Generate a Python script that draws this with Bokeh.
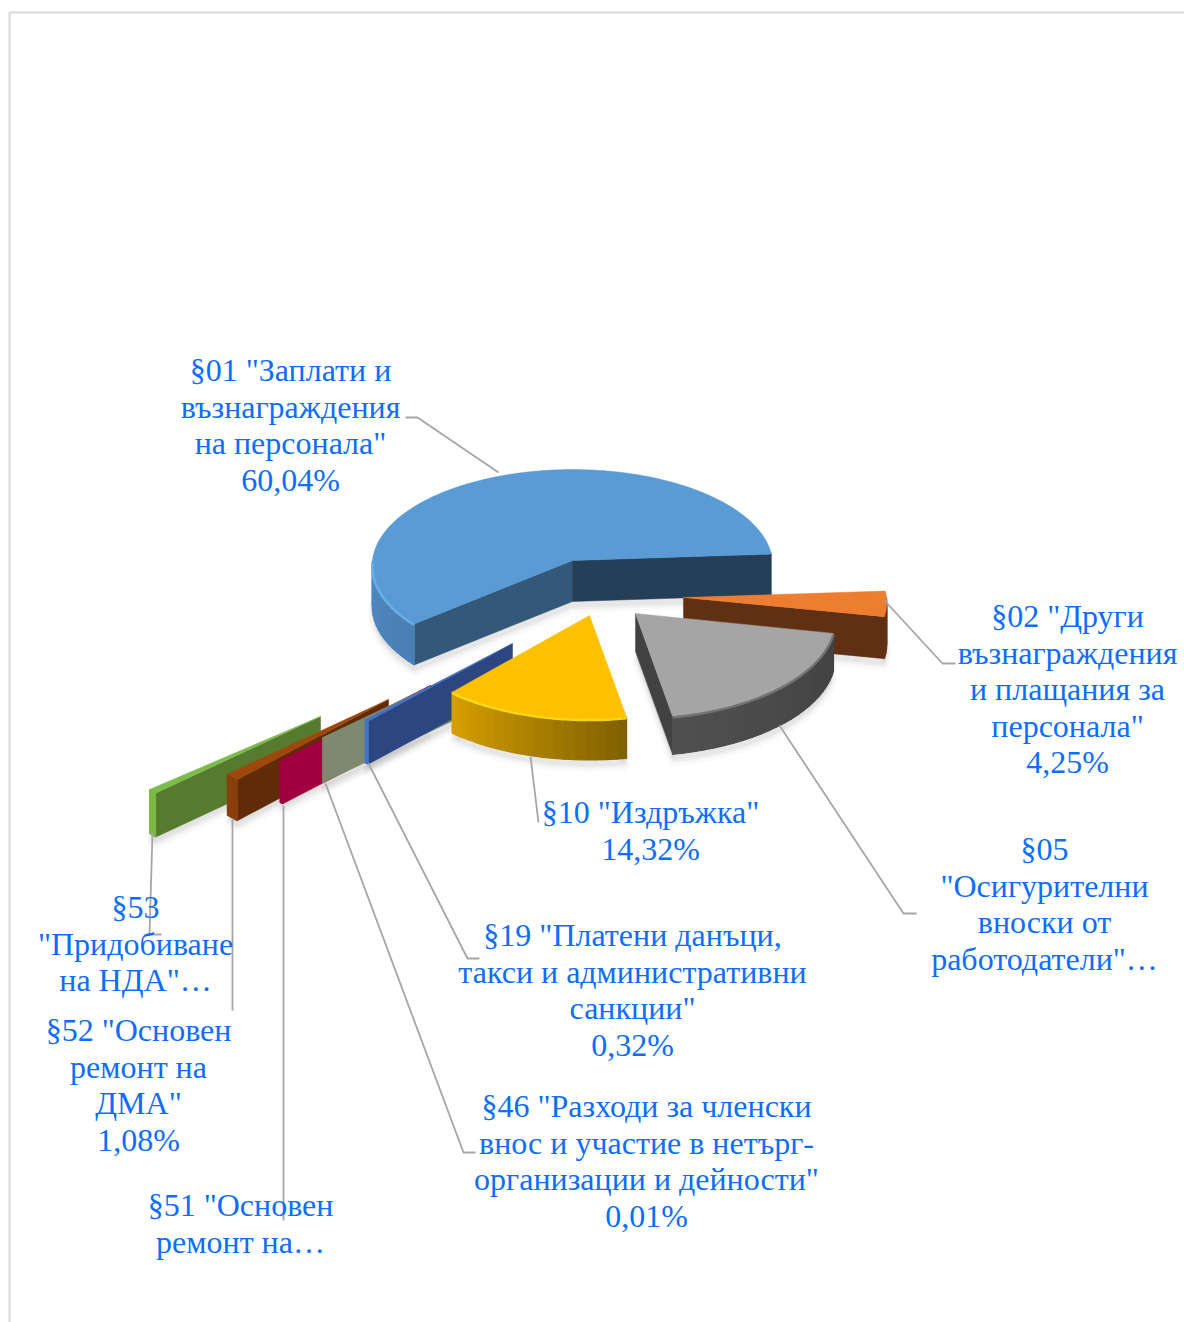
import numpy as np
from bokeh.plotting import figure
from bokeh.models import ColumnDataSource, Range1d
from bokeh.core.properties import value
from bokeh.embed import file_html
from bokeh.resources import INLINE

# ---- data ----
categories = ['§01', '§02', '§05', '§10', '§19', '§46', '§51', '§52', '§53']
shares = [60.04, 4.25, 19.00, 14.32, 0.32, 0.01, 0.30, 1.08, 0.68]
label_lines = [
    ['§01 "Заплати и', 'възнаграждения', 'на персонала"', '60,04%'],
    ['§02 "Други', 'възнаграждения', 'и плащания за', 'персонала"', '4,25%'],
    ['§05', '"Осигурителни', 'вноски от', 'работодатели"…'],
    ['§10 "Издръжка"', '14,32%'],
    ['§19 "Платени данъци,', 'такси и административни', 'санкции"', '0,32%'],
    ['§46 "Разходи за членски', 'внос и участие в нетърг-', 'организации и дейности"', '0,01%'],
    ['§51 "Основен', 'ремонт на…'],
    ['§52 "Основен', 'ремонт на', 'ДМА"', '1,08%'],
    ['§53', '"Придобиване', 'на НДА"…'],
]

# ---- layout and style ----
FIRST_ANGLE = 230.0
R, K, Q = 200.0, 95.5, 0.05
apex_x = [572, 683, 635, 589, 512, 470, 430, 388, 320]
apex_y = [560, 597, 613, 615, 643, 667, 685, 699, 716]
scale_x = [1.0, 1.015, 1.0, 1.0, 1.05, 1.05, 1.05, 1.055, 1.08]
scale_y = [1.0, 1.0, 1.04, 1.03, 1.045, 0.96, 1.045, 1.12, 1.15]
depth = [41, 42, 38, 41, 43, 45, 42, 41, 44]
top_col = ['#5B9BD5', '#ED7D31', '#A5A5A5', '#FFC000', '#4472C4', '#7E8A70', '#A10040', '#9E480E', '#7CBB4C']
start_wall = ['#33587A', '#5F3013', '#424242', '#806000', '#2B4680', '#7E8A70', '#A10040', '#612B08', '#567A2E']
end_wall = ['#243F57', '#5F3013', '#424242', '#806000', '#2B4680', '#7E8A70', '#A10040', '#612B08', '#567A2E']
arc_from = ['#4F88C0', '#5F3013', '#505050', '#D6A000', '#4472C4', '#7E8A70', '#A10040', '#8A3E0C', '#7CB845']
arc_to = ['#4A7FB3', '#6B3514', '#424242', '#7F6000', '#4472C4', '#7E8A70', '#A10040', '#8A3E0C', '#7CB845']
rim_col = ['#6CB2F0', None, '#777777', '#FFE11A', None, None, None, None, None]
paint_order = [0, 1, 8, 7, 6, 5, 4, 3, 2]
label_x = [290, 1067, 1044, 650, 632, 646, 240, 138, 135]
label_y = [369.5, 615.5, 848.5, 811.5, 934.5, 1105.5, 1204.5, 1029.5, 906.5]
LINE_STEP = 36.6
leaders_x = [[405, 417, 498], [884, 942, 955], [779, 903, 916], [530, 538], [368, 467, 479],
             [325, 463, 475], [283, 283], [232, 232], [152, 149, 161]]
leaders_y = [[417, 417, 472], [600, 663, 663], [725, 913, 913], [756, 822], [763, 958, 958],
             [783, 1152, 1152], [805, 1220], [818, 1010], [832, 934, 934]]

shares_arr = np.array(shares)
sweep = shares_arr / shares_arr.sum() * 360.0
starts = FIRST_ANGLE + np.concatenate([[0], np.cumsum(sweep)[:-1]])
starts = np.where((starts >= 360), starts - 360, starts)
ends = starts + sweep


def project(theta_deg, i):
    t = np.radians(theta_deg)
    u, v = np.sin(t), -np.cos(t)
    w = 1 - Q * v
    return apex_x[i] + scale_x[i] * R * u / w, apex_y[i] + scale_y[i] * K * v / w


def mix(c1, c2, f):
    a = [int(c1[i:i + 2], 16) for i in (1, 3, 5)]
    b = [int(c2[i:i + 2], 16) for i in (1, 3, 5)]
    return '#%02x%02x%02x' % tuple(int(round(x + (y - x) * f)) for x, y in zip(a, b))


p = figure(width=1184, height=1322, output_backend="svg", toolbar_location=None,
           x_range=Range1d(0, 1184), y_range=Range1d(1322, 0), min_border=0,
           x_axis_type=None, y_axis_type=None, outline_line_color=None)
p.grid.visible = False
p.background_fill_color = '#FFFFFF'
p.border_fill_color = '#FFFFFF'

# chart frame
p.line([9, 9, 1184], [1322, 12, 12], line_color='#D9D9D9', line_width=2)

# soft shadows
for i in paint_order:
    th = np.linspace(starts[i], ends[i], max(3, int(sweep[i]) + 2))
    x, y = project(th, i)
    px = np.concatenate([[apex_x[i]], x])
    py = np.concatenate([[apex_y[i]], y]) + depth[i]
    for d in (8, 6, 4, 2):
        p.patch(px, py + d, fill_color='#000000', fill_alpha=0.02, line_color='#000000',
                line_alpha=0.02, line_width=d)

# slices, back to front
for i in paint_order:
    ax, ay, dz = apex_x[i], apex_y[i], depth[i]
    # radial walls that face the viewer
    for ang, col, normal in ((starts[i], start_wall[i], starts[i] - 90), (ends[i], end_wall[i], ends[i] + 90)):
        if -np.cos(np.radians(normal)) > 0:
            ex, ey = project(ang, i)
            p.patch([ax, ex, ex, ax], [ay, ey, ey + dz, ay + dz],
                    fill_color=col, line_color=col, line_width=0.5)
    # outer wall, front half only
    lo = max(starts[i], 90.0)
    hi = min(ends[i], 270.0)
    if hi > lo:
        n = max(2, int((hi - lo) / 3.0) + 1)
        grid = np.linspace(lo, hi, n + 1)
        xs, ys, cols = [], [], []
        for a, b in zip(grid[:-1], grid[1:]):
            x0, y0 = project(a, i)
            x1, y1 = project(b, i)
            xs.append([x0, x1, x1, x0])
            ys.append([y0, y1, y1 + dz, y0 + dz])
            # colour runs from the left of the wall to its right
            cols.append(mix(arc_from[i], arc_to[i], (hi - (a + b) / 2) / (hi - lo)))
        p.patches(xs, ys, fill_color=cols, line_color=cols, line_width=1.2)
    # top face
    th = np.linspace(starts[i], ends[i], max(3, int(sweep[i] * 1.5) + 2))
    x, y = project(th, i)
    p.patch(np.concatenate([[ax], x]), np.concatenate([[ay], y]),
            fill_color=top_col[i], line_color=top_col[i], line_width=0.5)
    # bevel on the front rim
    if rim_col[i] and hi > lo:
        th = np.linspace(lo, hi, 60)
        x, y = project(th, i)
        p.line(x, y + 1, line_color=rim_col[i], line_width=2.5, line_alpha=0.9)

# leader lines
p.multi_line(leaders_x, leaders_y, line_color='#A6A6A6', line_width=1.8)

# labels
tx, ty, tt = [], [], []
for lines, lx, ly in zip(label_lines, label_x, label_y):
    for k, line in enumerate(lines):
        tx.append(lx)
        ty.append(ly + k * LINE_STEP)
        tt.append(line)
src = ColumnDataSource(dict(x=tx, y=ty, t=tt))
p.text('x', 'y', text='t', source=src, text_font=value("Liberation Serif"), text_font_size="32px",
       text_color='#0D6EFD', text_align='center', text_baseline='middle')

open("out.html", "w").write(file_html(p, INLINE))
